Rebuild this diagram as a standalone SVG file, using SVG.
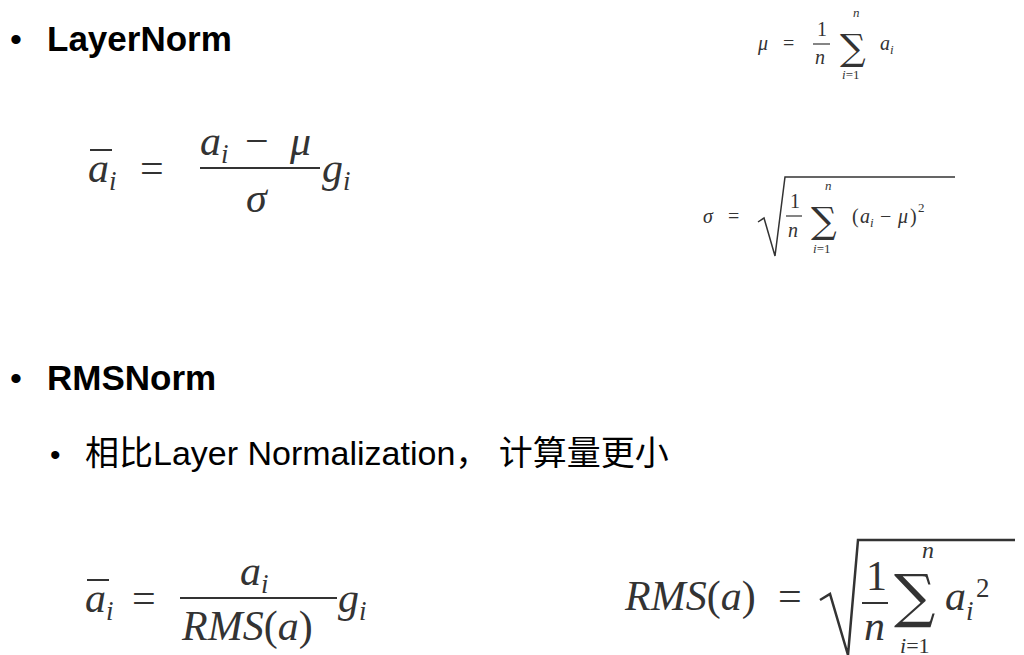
<svg xmlns="http://www.w3.org/2000/svg" width="1024" height="655" viewBox="0 0 1024 655">
<style>
.h{font-family:"Liberation Sans",Arial,sans-serif;font-weight:bold;fill:#000}
.b{font-family:"Liberation Sans","Noto Sans CJK SC",sans-serif;fill:#000}
.m{font-family:"Liberation Serif",serif;font-style:italic;fill:#333}
.r{font-family:"Liberation Serif",serif;font-style:normal;fill:#333}
.s{font-family:"DejaVu Serif",serif;font-style:normal;fill:#333}
.ln{stroke:#333;fill:none}
</style>
<rect width="1024" height="655" fill="#fff"/>
<text class="b" x="10" y="51" font-size="34">•</text>
<text class="h" x="47" y="51" font-size="35">LayerNorm</text>
<text class="b" x="10" y="390" font-size="34">•</text>
<text class="h" x="47" y="390" font-size="35">RMSNorm</text>
<text class="b" x="50" y="465" font-size="30">•</text>
<text class="b" x="85" y="465" font-size="34">相比Layer Normalization， 计算量更小</text>

<!-- formula 1 -->
<g font-size="42">
<text class="m" x="88" y="182">a</text><text class="m" x="109" y="190" font-size="27">i</text>
<line class="ln" x1="90" y1="150" x2="112" y2="150" stroke-width="2"/>
<text class="r" x="140" y="182">=</text>
<text class="m" x="200" y="155">a</text><text class="m" x="221" y="163" font-size="27">i</text>
<text class="r" x="245" y="155">−</text>
<text class="m" x="290" y="155">μ</text>
<line class="ln" x1="200" y1="168" x2="320" y2="168" stroke-width="2"/>
<text class="m" x="246" y="212">σ</text>
<text class="m" x="322" y="182">g</text><text class="m" x="343" y="190" font-size="27">i</text>
</g>

<!-- mu -->
<g font-size="20">
<text class="m" x="758" y="50">μ</text>
<text class="r" x="783" y="50">=</text>
<text class="r" x="817" y="36">1</text>
<line class="ln" x1="813" y1="44" x2="830" y2="44" stroke-width="1.2"/>
<text class="m" x="815" y="64">n</text>
<text class="s" x="840" y="60" font-size="36">∑</text>
<text class="m" x="853" y="17" font-size="13">n</text>
<text class="m" x="842" y="79" font-size="13">i<tspan class="r">=1</tspan></text>
<text class="m" x="880" y="50">a</text><text class="m" x="890" y="54" font-size="13">i</text>
</g>

<!-- sigma -->
<g font-size="20">
<text class="m" x="703" y="223">σ</text>
<text class="r" x="728" y="223">=</text>
<polyline class="ln" stroke-width="1.5" points="758,222 764,218 775,256 785,177 955,177"/>
<text class="r" x="790" y="208">1</text>
<line class="ln" x1="786" y1="216" x2="802" y2="216" stroke-width="1.2"/>
<text class="m" x="788" y="237">n</text>
<text class="s" x="811" y="233" font-size="36">∑</text>
<text class="m" x="825" y="190" font-size="13">n</text>
<text class="m" x="813" y="253" font-size="13">i<tspan class="r">=1</tspan></text>
<text class="r" x="852" y="223">(</text>
<text class="m" x="860" y="223">a</text><text class="m" x="870" y="227" font-size="13">i</text>
<text class="r" x="880" y="223">−</text>
<text class="m" x="898" y="223">μ</text>
<text class="r" x="910" y="223">)</text>
<text class="r" x="918" y="212" font-size="13">2</text>
</g>

<!-- RMS formula left -->
<g font-size="42">
<text class="m" x="85" y="612">a</text><text class="m" x="106" y="620" font-size="27">i</text>
<line class="ln" x1="87" y1="580" x2="109" y2="580" stroke-width="2"/>
<text class="r" x="132" y="612">=</text>
<text class="m" x="240" y="585">a</text><text class="m" x="261" y="593" font-size="27">i</text>
<line class="ln" x1="180" y1="598" x2="337" y2="598" stroke-width="2"/>
<text class="m" x="182" y="640">RMS<tspan class="r">(</tspan>a<tspan class="r">)</tspan></text>
<text class="m" x="338" y="612">g</text><text class="m" x="359" y="620" font-size="27">i</text>
</g>

<!-- RMS formula right -->
<g font-size="42">
<text class="m" x="625" y="610">RMS<tspan class="r">(</tspan>a<tspan class="r">)</tspan></text>
<text class="r" x="778" y="610">=</text>
<polyline class="ln" stroke-width="2.5" points="820,600 830,594 848,655 858,540 1015,540"/>
<text class="r" x="866" y="590">1</text>
<line class="ln" x1="862" y1="603" x2="888" y2="603" stroke-width="2"/>
<text class="m" x="864" y="640">n</text>
<text class="s" x="894" y="616" font-size="58">∑</text>
<text class="m" x="922" y="558" font-size="24">n</text>
<text class="m" x="900" y="653" font-size="22">i<tspan class="r">=1</tspan></text>
<text class="m" x="945" y="610">a</text><text class="m" x="966" y="620" font-size="27">i</text>
<text class="r" x="976" y="597" font-size="27">2</text>
</g>
</svg>
